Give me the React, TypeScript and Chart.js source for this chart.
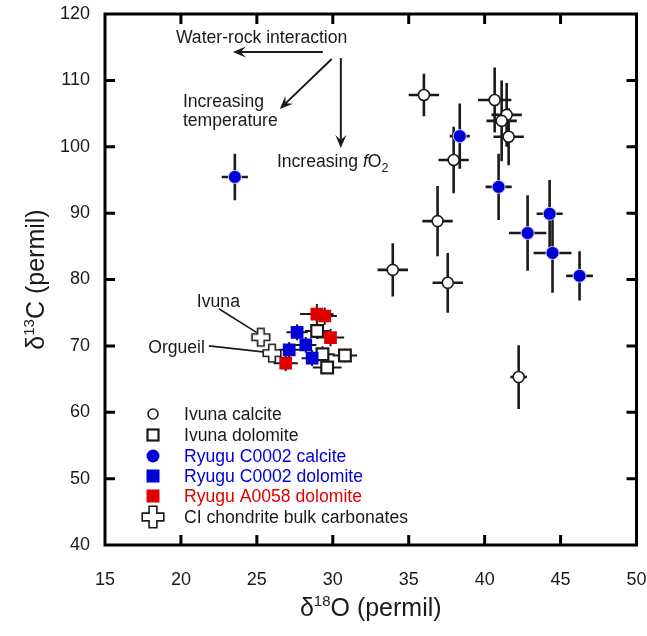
import React, { useEffect, useRef } from "react";
import { Chart, registerables } from "chart.js";

Chart.register(...registerables);

const FONT = "'Liberation Sans', Arial, Helvetica, sans-serif";
const INK = "#1a1a1a";
const BLUE = "#0000d6";
const RED = "#e00000";

// Ivuna calcite (open circles)
const ivunaCalciteX = [36.0, 40.66, 41.45, 41.12, 41.58, 37.96, 36.9, 33.95, 37.57, 42.24];
const ivunaCalciteY = [107.8, 107.05, 104.8, 103.9, 101.5, 98.0, 88.8, 81.45, 79.5, 65.3];
const ivunaCalciteXErr = [1.0, 1.1, 1.0, 1.0, 1.0, 1.0, 1.0, 1.0, 1.0, 0.55];
const ivunaCalciteYErr = [3.2, 4.9, 4.8, 6.1, 4.3, 5.0, 5.3, 4.0, 4.5, 4.8];

// Ivuna dolomite (open squares)
const ivunaDolomiteX = [28.97, 29.32, 30.8, 29.63];
const ivunaDolomiteY = [72.25, 68.75, 68.55, 66.75];
const ivunaDolomiteXErr = [0.8, 0.8, 0.8, 0.95];
const ivunaDolomiteYErr = [1.2, 1.2, 1.0, 1.0];

// Ryugu C0002 calcite (blue circles)
const c0002CalciteX = [23.55, 38.36, 40.92, 44.28, 42.83, 44.47, 46.25];
const c0002CalciteY = [95.45, 101.6, 93.95, 89.9, 87.0, 84.0, 80.55];
const c0002CalciteXErr = [0.86, 0.66, 0.86, 0.86, 1.23, 1.25, 0.88];
const c0002CalciteYErr = [3.5, 4.9, 5.0, 5.1, 5.7, 6.0, 3.7];

// Ryugu C0002 dolomite (blue squares)
const c0002DolomiteX = [27.65, 28.22, 27.13, 28.64];
const c0002DolomiteY = [72.05, 70.15, 69.4, 68.15];
const c0002DolomiteXErr = [0.7, 0.7, 0.7, 0.7];
const c0002DolomiteYErr = [1.2, 1.2, 1.2, 1.2];

// Ryugu A0058 dolomite (red squares)
const a0058DolomiteX = [28.95, 29.47, 29.85, 26.9];
const a0058DolomiteY = [74.8, 74.5, 71.25, 67.4];
const a0058DolomiteXErr = [1.1, 0.8, 0.9, 0.8];
const a0058DolomiteYErr = [1.5, 1.3, 1.3, 1.2];

// CI chondrite bulk carbonates (crosses): Ivuna, Orgueil
const ciBulkX = [25.26, 26.0];
const ciBulkY = [71.3, 68.9];

// Axis ranges / ticks
const xTickValues = [15, 20, 25, 30, 35, 40, 45, 50];
const yTickValues = [40, 50, 60, 70, 80, 90, 100, 110, 120];

// Legend
const legendLabels = [
  "Ivuna calcite",
  "Ivuna dolomite",
  "Ryugu C0002 calcite",
  "Ryugu C0002 dolomite",
  "Ryugu A0058 dolomite",
  "CI chondrite bulk carbonates",
];

// Annotation arrows (data units): start -> tip
const arrowStartX = [29.34, 29.93, 30.53];
const arrowStartY = [114.28, 113.22, 113.37];
const arrowEndX = [23.42, 26.51, 30.53];
const arrowEndY = [114.28, 105.7, 99.82];

// Leader lines for sample labels
const leaderStartX = [22.5, 21.84];
const leaderStartY = [75.6, 70.0];
const leaderEndX = [25.0, 25.4];
const leaderEndY = [72.0, 69.1];

function makeCross(size: number, L: number, a: number) {
  const c = document.createElement("canvas");
  c.width = size;
  c.height = size;
  const g = c.getContext("2d")!;
  const cx = size / 2;
  const cy = size / 2;
  g.beginPath();
  g.moveTo(cx - a, cy - L);
  g.lineTo(cx + a, cy - L);
  g.lineTo(cx + a, cy - a);
  g.lineTo(cx + L, cy - a);
  g.lineTo(cx + L, cy + a);
  g.lineTo(cx + a, cy + a);
  g.lineTo(cx + a, cy + L);
  g.lineTo(cx - a, cy + L);
  g.lineTo(cx - a, cy + a);
  g.lineTo(cx - L, cy + a);
  g.lineTo(cx - L, cy - a);
  g.lineTo(cx - a, cy - a);
  g.closePath();
  g.fillStyle = "#ffffff";
  g.fill();
  g.lineWidth = 1.6;
  g.strokeStyle = INK;
  g.lineJoin = "miter";
  g.stroke();
  return c;
}

type Part = { t: string; s: number; italic?: boolean; dy?: number };

function drawRich(ctx: CanvasRenderingContext2D, parts: Part[], x: number, y: number, align: "left" | "center" | "right") {
  let total = 0;
  const widths = parts.map((p) => {
    ctx.font = `${p.italic ? "italic " : ""}${p.s}px ${FONT}`;
    const w = ctx.measureText(p.t).width;
    total += w;
    return w;
  });
  let cx = align === "left" ? x : align === "center" ? x - total / 2 : x - total;
  ctx.textAlign = "left";
  ctx.textBaseline = "alphabetic";
  parts.forEach((p, i) => {
    ctx.font = `${p.italic ? "italic " : ""}${p.s}px ${FONT}`;
    ctx.fillText(p.t, cx, y + (p.dy || 0));
    cx += widths[i];
  });
}

function arrowHead(ctx: CanvasRenderingContext2D, x0: number, y0: number, x1: number, y1: number) {
  const ang = Math.atan2(y1 - y0, x1 - x0);
  const len = 13;
  const half = 5.5;
  const notch = 8;
  const ux = Math.cos(ang);
  const uy = Math.sin(ang);
  const px = -uy;
  const py = ux;
  ctx.beginPath();
  ctx.moveTo(x1, y1);
  ctx.lineTo(x1 - ux * len + px * half, y1 - uy * len + py * half);
  ctx.lineTo(x1 - ux * notch, y1 - uy * notch);
  ctx.lineTo(x1 - ux * len - px * half, y1 - uy * len - py * half);
  ctx.closePath();
  ctx.fill();
}

export default function App() {
  const ref = useRef<HTMLCanvasElement>(null);

  useEffect(() => {
    const canvas = ref.current!;
    const crossImg = makeCross(22, 8.8, 3.3);
    const crossLegend = makeCross(26, 10.8, 3.9);

    const toPts = (xs: number[], ys: number[]) => xs.map((x, i) => ({ x, y: ys[i] }));

    const overlay = {
      id: "overlay",
      beforeDatasetsDraw(chart: any) {
        const ctx = chart.ctx as CanvasRenderingContext2D;
        const xs = chart.scales.x;
        const ys = chart.scales.y;
        ctx.save();
        ctx.strokeStyle = INK;
        ctx.lineCap = "butt";
        chart.data.datasets.forEach((ds: any) => {
          if (!ds.errX) return;
          ctx.lineWidth = ds.errWidth || 2.5;
          ds.data.forEach((p: any, i: number) => {
            const px = xs.getPixelForValue(p.x);
            const py = ys.getPixelForValue(p.y);
            const xl = xs.getPixelForValue(p.x - ds.errX[i]);
            const xr = xs.getPixelForValue(p.x + ds.errX[i]);
            const yt = ys.getPixelForValue(p.y + ds.errY[i]);
            const yb = ys.getPixelForValue(p.y - ds.errY[i]);
            ctx.beginPath();
            ctx.moveTo(xl, py);
            ctx.lineTo(xr, py);
            ctx.moveTo(px, yt);
            ctx.lineTo(px, yb);
            ctx.stroke();
          });
        });
        ctx.restore();
      },
      afterDatasetsDraw(chart: any) {
        const ctx = chart.ctx as CanvasRenderingContext2D;
        const a = chart.chartArea;
        const xs = chart.scales.x;
        const ys = chart.scales.y;
        const X = (v: number) => xs.getPixelForValue(v);
        const Y = (v: number) => ys.getPixelForValue(v);
        ctx.save();
        // frame
        ctx.strokeStyle = "#000";
        ctx.lineWidth = 3;
        ctx.lineJoin = "miter";
        ctx.strokeRect(a.left, a.top, a.right - a.left, a.bottom - a.top);
        // inward ticks on all four sides
        const tl = 10;
        ctx.beginPath();
        xTickValues.slice(1, -1).forEach((v) => {
          const px = X(v);
          ctx.moveTo(px, a.bottom);
          ctx.lineTo(px, a.bottom - tl);
          ctx.moveTo(px, a.top);
          ctx.lineTo(px, a.top + tl);
        });
        yTickValues.slice(1, -1).forEach((v) => {
          const py = Y(v);
          ctx.moveTo(a.left, py);
          ctx.lineTo(a.left + tl, py);
          ctx.moveTo(a.right, py);
          ctx.lineTo(a.right - tl, py);
        });
        ctx.stroke();

        // arrows
        ctx.strokeStyle = INK;
        ctx.fillStyle = INK;
        ctx.lineWidth = 2;
        arrowStartX.forEach((sx, i) => {
          const x0 = X(sx);
          const y0 = Y(arrowStartY[i]);
          const x1 = X(arrowEndX[i]);
          const y1 = Y(arrowEndY[i]);
          const ang = Math.atan2(y1 - y0, x1 - x0);
          ctx.beginPath();
          ctx.moveTo(x0, y0);
          ctx.lineTo(x1 - Math.cos(ang) * 8, y1 - Math.sin(ang) * 8);
          ctx.stroke();
          arrowHead(ctx, x0, y0, x1, y1);
        });

        // leader lines
        ctx.lineWidth = 1.6;
        leaderStartX.forEach((sx, i) => {
          ctx.beginPath();
          ctx.moveTo(X(sx), Y(leaderStartY[i]));
          ctx.lineTo(X(leaderEndX[i]), Y(leaderEndY[i]));
          ctx.stroke();
        });

        // annotation text
        ctx.fillStyle = INK;
        const fs = 17.6;
        drawRich(ctx, [{ t: "Water-rock interaction", s: fs }], X(19.67), Y(115.68), "left");
        drawRich(ctx, [{ t: "Increasing", s: fs }], X(20.13), Y(105.95), "left");
        drawRich(ctx, [{ t: "temperature", s: fs }], X(20.13), Y(103.13), "left");
        drawRich(
          ctx,
          [
            { t: "Increasing ", s: fs },
            { t: "f", s: fs, italic: true },
            { t: "O", s: fs },
            { t: "2", s: 12.5, dy: 5 },
          ],
          X(26.32),
          Y(97.0),
          "left"
        );
        drawRich(ctx, [{ t: "Ivuna", s: fs }], X(21.05), Y(75.92), "left");
        drawRich(ctx, [{ t: "Orgueil", s: fs }], X(21.58), Y(68.95), "right");

        // legend
        const lx = a.left + 48;
        const tx = a.left + 79;
        const rowY = [414, 435, 456, 476, 496, 517];
        const colors = [INK, INK, BLUE, BLUE, RED, INK];
        rowY.forEach((ry, i) => {
          ctx.save();
          if (i === 0) {
            ctx.beginPath();
            ctx.arc(lx, ry, 5, 0, Math.PI * 2);
            ctx.fillStyle = "#fff";
            ctx.fill();
            ctx.lineWidth = 1.6;
            ctx.strokeStyle = INK;
            ctx.stroke();
          } else if (i === 1) {
            ctx.fillStyle = "#fff";
            ctx.fillRect(lx - 5.5, ry - 5.5, 11, 11);
            ctx.lineWidth = 2.2;
            ctx.strokeStyle = INK;
            ctx.strokeRect(lx - 5.5, ry - 5.5, 11, 11);
          } else if (i === 2) {
            ctx.beginPath();
            ctx.arc(lx, ry, 6.5, 0, Math.PI * 2);
            ctx.fillStyle = BLUE;
            ctx.fill();
          } else if (i === 3 || i === 4) {
            ctx.fillStyle = i === 3 ? BLUE : RED;
            ctx.fillRect(lx - 6.5, ry - 6.5, 13, 13);
          } else {
            ctx.drawImage(crossLegend, lx - 13, ry - 13);
          }
          ctx.restore();
          ctx.fillStyle = colors[i];
          ctx.font = `${fs}px ${FONT}`;
          ctx.textAlign = "left";
          ctx.textBaseline = "middle";
          ctx.fillText(legendLabels[i], tx, ry + 1);
        });

        // axis titles
        ctx.fillStyle = INK;
        drawRich(
          ctx,
          [
            { t: "δ", s: 25 },
            { t: "18", s: 15, dy: -10 },
            { t: "O (permil)", s: 25 },
          ],
          (a.left + a.right) / 2,
          616,
          "center"
        );
        ctx.save();
        ctx.translate(44, (a.top + a.bottom) / 2);
        ctx.rotate(-Math.PI / 2);
        drawRich(
          ctx,
          [
            { t: "δ", s: 25 },
            { t: "13", s: 15, dy: -10 },
            { t: "C (permil)", s: 25 },
          ],
          0,
          0,
          "center"
        );
        ctx.restore();
        ctx.restore();
      },
    };

    const chart = new Chart(canvas, {
      type: "scatter",
      data: {
        datasets: [
          {
            label: legendLabels[5],
            data: toPts(ciBulkX, ciBulkY),
            pointStyle: crossImg as any,
            pointRadius: 9,
            order: 0,
          } as any,
          {
            label: legendLabels[4],
            data: toPts(a0058DolomiteX, a0058DolomiteY),
            errX: a0058DolomiteXErr,
            errY: a0058DolomiteYErr,
            errWidth: 2,
            pointStyle: "rect",
            pointRadius: 9,
            backgroundColor: RED,
            borderWidth: 0,
            borderColor: RED,
            order: 1,
          } as any,
          {
            label: legendLabels[3],
            data: toPts(c0002DolomiteX, c0002DolomiteY),
            errX: c0002DolomiteXErr,
            errY: c0002DolomiteYErr,
            errWidth: 2,
            pointStyle: "rect",
            pointRadius: 9,
            backgroundColor: BLUE,
            borderWidth: 0,
            borderColor: BLUE,
            order: 2,
          } as any,
          {
            label: legendLabels[2],
            data: toPts(c0002CalciteX, c0002CalciteY),
            errX: c0002CalciteXErr,
            errY: c0002CalciteYErr,
            errWidth: 2.6,
            pointStyle: "circle",
            pointRadius: 6.5,
            backgroundColor: BLUE,
            borderColor: "#c4c4ff",
            borderWidth: 1,
            order: 3,
          } as any,
          {
            label: legendLabels[1],
            data: toPts(ivunaDolomiteX, ivunaDolomiteY),
            errX: ivunaDolomiteXErr,
            errY: ivunaDolomiteYErr,
            errWidth: 2,
            pointStyle: "rect",
            pointRadius: 8.3,
            backgroundColor: "#ffffff",
            borderColor: INK,
            borderWidth: 2.2,
            order: 4,
          } as any,
          {
            label: legendLabels[0],
            data: toPts(ivunaCalciteX, ivunaCalciteY),
            errX: ivunaCalciteXErr,
            errY: ivunaCalciteYErr,
            errWidth: 2.6,
            pointStyle: "circle",
            pointRadius: 5.5,
            backgroundColor: "#ffffff",
            borderColor: INK,
            borderWidth: 1.6,
            order: 5,
          } as any,
        ],
      },
      options: {
        responsive: false,
        animation: false,
        events: [],
        layout: { padding: { top: 14, right: 10, left: 0, bottom: 0 } },
        plugins: {
          legend: { display: false },
          tooltip: { enabled: false },
        },
        scales: {
          x: {
            type: "linear",
            min: 15,
            max: 50,
            ticks: {
              stepSize: 5,
              color: INK,
              padding: 24,
              font: { size: 18, family: FONT },
            },
            grid: { display: false, drawTicks: false },
            border: { display: false },
            afterFit: (s: any) => {
              s.height = 91;
              s.paddingLeft = 0;
              s.paddingRight = 0;
            },
          },
          y: {
            type: "linear",
            min: 40,
            max: 120,
            ticks: {
              stepSize: 10,
              color: INK,
              padding: 15,
              font: { size: 18, family: FONT },
            },
            grid: { display: false, drawTicks: false },
            border: { display: false },
            afterFit: (s: any) => {
              s.width = 105;
              s.paddingTop = 0;
              s.paddingBottom = 0;
            },
          },
        },
      },
      plugins: [overlay],
    } as any);

    return () => chart.destroy();
  }, []);

  return (
    <div style={{ position: "fixed", left: 0, top: 0, width: 647, height: 636, background: "#fff" }}>
      <canvas ref={ref} width={647} height={636} style={{ display: "block", width: 647, height: 636 }} />
    </div>
  );
}
